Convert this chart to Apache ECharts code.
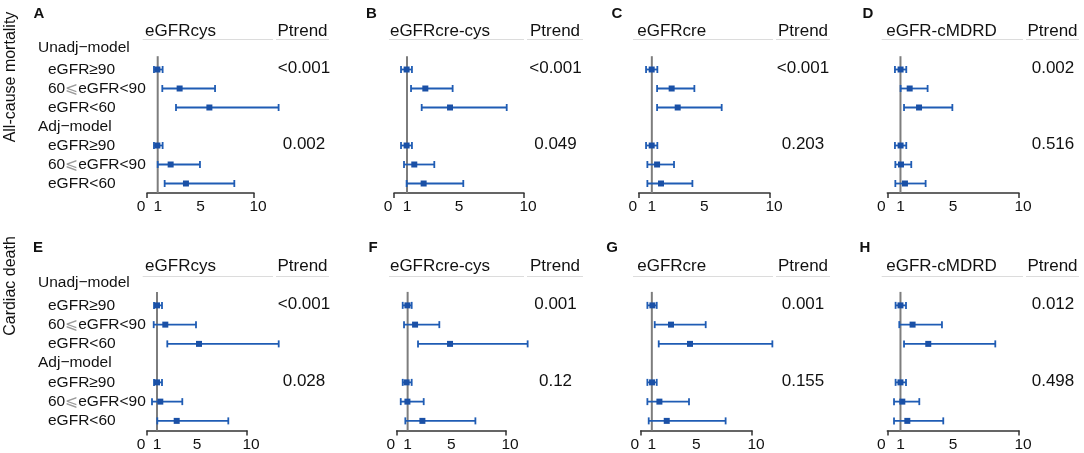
<!DOCTYPE html>
<html><head><meta charset="utf-8">
<script src="https://cdn.jsdelivr.net/npm/echarts@6/dist/echarts.min.js"></script>
<style>html,body{margin:0;padding:0;background:#fff}#c{width:1084px;height:453px}</style>
</head><body><div id="c"></div>
<script>
// ---------- DATA ----------
const rowLabels = ['Unadj\u2212model','eGFR\u226590','60\u2A7DeGFR<90','eGFR<60','Adj\u2212model','eGFR\u226590','60\u2A7DeGFR<90','eGFR<60'];
const dataRows = [1,2,3,5,6,7];
const pRows = [1,5];
const methods = ['eGFRcys','eGFRcre-cys','eGFRcre','eGFR-cMDRD'];
const outcomes = ['All-cause mortality','Cardiac death'];
const panelLetters = ['A','B','C','D','E','F','G','H'];
const xTickLabels = [0,1,5,10];
const xEndTicks = [0,10];
const refValue = 1;

// All-cause mortality
const lowA = [0.65,1.43,2.71,0.65,1.00,1.65];
const estA = [0.97,3.05,5.83,0.97,2.21,3.64];
const highA = [1.46,6.36,12.3,1.46,4.95,8.16];
const lowB = [0.54,1.31,2.13,0.54,0.77,0.97];
const estB = [0.97,2.41,4.31,0.97,1.56,2.28];
const highB = [1.38,4.51,8.67,1.38,3.10,5.33];
const lowC = [0.56,1.40,1.40,0.56,0.66,0.66];
const estC = [0.99,2.51,2.97,0.99,1.40,1.70];
const highC = [1.42,4.24,6.32,1.42,2.69,4.09];
const lowD = [0.58,1.01,1.27,0.58,0.61,0.61];
const estD = [1.01,1.70,2.41,1.01,1.04,1.34];
const highD = [1.44,3.06,4.94,1.44,1.82,2.91];
// Cardiac death
const lowE = [0.70,0.67,2.03,0.70,0.50,1.03];
const estE = [1.00,1.83,5.20,1.00,1.33,2.97];
const highE = [1.50,4.90,13.17,1.50,3.53,8.13];
const lowF = [0.55,0.67,1.95,0.55,0.37,0.79];
const estF = [0.98,1.68,4.88,0.91,0.98,2.35];
const highF = [1.37,3.90,11.98,1.37,2.47,7.20];
const lowG = [0.60,1.26,1.62,0.60,0.60,0.72];
const estG = [1.05,2.72,4.43,1.02,1.68,2.34];
const highG = [1.44,5.84,11.83,1.44,4.34,7.63];
const lowH = [0.63,0.91,1.27,0.63,0.51,0.51];
const estH = [1.00,1.92,3.11,1.00,1.14,1.52];
const highH = [1.42,4.15,8.20,1.42,2.43,4.25];

const pAllCauseUnadj = ['<0.001','<0.001','<0.001','0.002'];
const pAllCauseAdj = ['0.002','0.049','0.203','0.516'];
const pCardiacUnadj = ['<0.001','0.001','0.001','0.012'];
const pCardiacAdj = ['0.028','0.12','0.155','0.498'];

// ---------- LAYOUT ----------
const FONT = "'Liberation Sans', Arial, Helvetica, sans-serif";
const lows = [lowA,lowB,lowC,lowD,lowE,lowF,lowG,lowH];
const ests = [estA,estB,estC,estD,estE,estF,estG,estH];
const highs = [highA,highB,highC,highD,highE,highF,highG,highH];
const pUnadj = [pAllCauseUnadj, pCardiacUnadj];
const pAdj = [pAllCauseAdj, pCardiacAdj];

const rowLay = [
  {top:41, height:152, letterY:14, headY:31, lineY:39.5, titleY:77},
  {top:276.5, height:154, letterY:248, headY:266, lineY:276.5, titleY:286}
];
const colLay = [
  {headX:180.5, lineX0:142.7, pX:304, pX0:276, pX1:329},
  {headX:440, lineX0:389, pX:555.5, pX0:527, pX1:583},
  {headX:671.7, lineX0:633, pX:803, pX0:776, pX1:830},
  {headX:941.5, lineX0:881.7, pX:1053, pX0:1026, pX1:1079}
];
const gridBox = [[147,107],[394,130],[638.7,131.3],[887.3,131.7],[147,100],[396.7,109.3],[640.7,111.3],[887.3,131.7]];
const letterX = [39,371.5,617,868,38,373,612,865];
const BLUE = '#1f5cb4';
const MARK = '#1a50a6';
const LBL = 15.5;

const grids=[], xAxes=[], yAxes=[], series=[], graphics=[];

for (let p=0;p<8;p++){
  const r = p<4?0:1, c = p%4;
  const R = rowLay[r], C = colLay[c];
  grids.push({left:gridBox[p][0], width:gridBox[p][1], top:R.top, height:R.height});
  xAxes.push({
    gridIndex:p, type:'value', min:0, max:10,
    axisLine:{show:true, lineStyle:{color:'#333', width:1.5}},
    axisTick:{show:true, customValues:xEndTicks, length:5, lineStyle:{color:'#333', width:1.5}},
    splitLine:{show:false},
    axisLabel:{
      customValues:xTickLabels, margin:6, color:'#111', fontFamily:FONT, fontSize:15,
      formatter:function(v){ if(v===0) return '{l|0}'; if(v===10) return '{r|10}'; return '{m|'+v+'}'; },
      rich:{
        l:{padding:[0,12,0,0], fontSize:15.5, fontFamily:FONT, color:'#111'},
        r:{padding:[0,0,0,8], fontSize:15.5, fontFamily:FONT, color:'#111'},
        m:{fontSize:15.5, fontFamily:FONT, color:'#111'}
      }
    }
  });
  yAxes.push({
    gridIndex:p, type:'category', inverse:true, data:rowLabels,
    axisLine:{show:false}, axisTick:{show:false}, splitLine:{show:false},
    axisLabel:{
      show:c===0, interval:0, hideOverlap:false, align:'left', margin:gridBox[p][0]-38,
      color:'#111', fontFamily:FONT, fontSize:LBL,
      formatter:function(v, idx){
        if(idx===0) return '{g|'+v+'}';
        if(idx===4) return '{h|'+v+'}';
        const k = v.indexOf('\u2A7D');
        if(k>=0) return '{i|'+v.slice(0,k)+'}{s|\u2A7D}{n|'+v.slice(k+1)+'}';
        return '{i|'+v+'}';
      },
      rich:{
        g:{fontSize:LBL, fontFamily:FONT, color:'#111', padding:[0,0,6,0]},
        h:{fontSize:LBL, fontFamily:FONT, color:'#111'},
        i:{fontSize:LBL, fontFamily:FONT, color:'#111', padding:[0,0,0,10]},
        s:{fontSize:LBL, fontFamily:"'DejaVu Sans', "+FONT, color:'#999'},
        n:{fontSize:LBL, fontFamily:FONT, color:'#111'}
      }
    }
  });
  // reference line at HR = 1
  series.push({
    type:'custom', xAxisIndex:p, yAxisIndex:p, clip:false, silent:true, z:2,
    data:[[refValue,0]],
    renderItem:function(params, api){
      const band = api.size([0,1])[1];
      const pt = api.coord([api.value(0),0]);
      const bot = api.coord([api.value(0),7])[1] + band/2;
      return {type:'line', shape:{x1:pt[0], y1:pt[1]+band*0.3, x2:pt[0], y2:bot},
              style:{stroke:'#7d7d7d', lineWidth:2}};
    }
  });
  // error bars
  const lo=lows[p], es=ests[p], hi=highs[p];
  series.push({
    type:'custom', xAxisIndex:p, yAxisIndex:p, clip:false, silent:true, z:5,
    encode:{x:[0,1,2], y:3},
    data:dataRows.map((row,i)=>[lo[i],es[i],hi[i],row]),
    renderItem:function(params, api){
      const a = api.coord([api.value(0), api.value(3)]);
      const m = api.coord([api.value(1), api.value(3)]);
      const b = api.coord([api.value(2), api.value(3)]);
      const y = m[1], ch = 3.5, s = 6;
      return {type:'group', children:[
        {type:'line', shape:{x1:a[0],y1:y,x2:b[0],y2:y}, style:{stroke:BLUE, lineWidth:1.8}},
        {type:'line', shape:{x1:a[0],y1:y-ch,x2:a[0],y2:y+ch}, style:{stroke:BLUE, lineWidth:1.8}},
        {type:'line', shape:{x1:b[0],y1:y-ch,x2:b[0],y2:y+ch}, style:{stroke:BLUE, lineWidth:1.8}},
        {type:'rect', shape:{x:m[0]-s/2, y:y-s/2, width:s, height:s}, style:{fill:MARK}}
      ]};
    }
  });
  // P trend values
  const ptxt = [pUnadj[r][c], pAdj[r][c]];
  const px = C.pX;
  series.push({
    type:'custom', xAxisIndex:p, yAxisIndex:p, clip:false, silent:true, z:5,
    data:pRows.map(row=>[0,row]),
    encode:{x:0, y:1},
    renderItem:function(params, api){
      const y = api.coord([0, api.value(1)])[1];
      return {type:'text', x:px, y:y-1, style:{text:ptxt[params.dataIndex], fill:'#111',
        font:'17px '+FONT, align:'center', verticalAlign:'middle'}};
    }
  });
  // headers
  graphics.push({type:'text', x:letterX[p], y:R.letterY, style:{text:panelLetters[p], fill:'#111',
    font:'bold 15px '+FONT, align:'center', verticalAlign:'middle'}});
  graphics.push({type:'text', x:C.headX, y:R.headY, style:{text:methods[c], fill:'#111',
    font:'17px '+FONT, align:'center', verticalAlign:'middle'}});
  graphics.push({type:'text', x:(C.pX0+C.pX1)/2, y:R.headY, style:{text:'Ptrend', fill:'#111',
    font:'17px '+FONT, align:'center', verticalAlign:'middle'}});
  graphics.push({type:'line', shape:{x1:C.lineX0, y1:R.lineY, x2:C.pX0-3, y2:R.lineY}, style:{stroke:'#dcdcdc', lineWidth:1}});
  graphics.push({type:'line', shape:{x1:C.pX0, y1:R.lineY, x2:C.pX1, y2:R.lineY}, style:{stroke:'#dcdcdc', lineWidth:1}});
}
for (let r=0;r<2;r++){
  graphics.push({type:'text', x:11, y:rowLay[r].titleY, rotation:Math.PI/2,
    style:{text:outcomes[r], fill:'#111', font:'16px '+FONT, align:'center', verticalAlign:'middle'}});
}

const chart = echarts.init(document.getElementById('c'), null, {renderer:'canvas'});
chart.setOption({
  animation:false, backgroundColor:'#fff',
  grid:grids, xAxis:xAxes, yAxis:yAxes, series:series, graphic:graphics
});
</script>
</body></html>
